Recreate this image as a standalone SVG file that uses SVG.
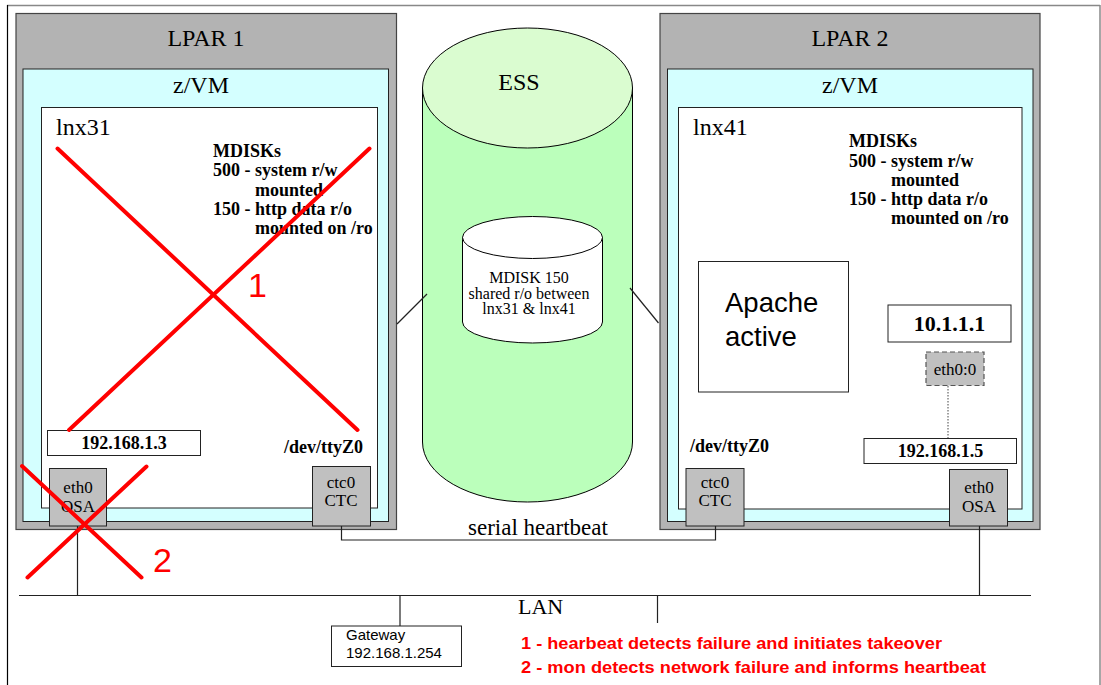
<svg xmlns="http://www.w3.org/2000/svg" width="1101" height="685" viewBox="0 0 1101 685">
<style>
.serif{font-family:"Liberation Serif","Times New Roman",serif;fill:#000}
.sans{font-family:"Liberation Sans",Arial,sans-serif;fill:#000}
.b{font-weight:bold}
.lpar{fill:#b3b3b3;stroke:#444;stroke-width:1.2}
.zvm{fill:#d4ffff;stroke:#222;stroke-width:1}
.lnx{fill:#fff;stroke:#222;stroke-width:1}
.dev{fill:#c0c0c0;stroke:#222;stroke-width:1}
.box{fill:#fff;stroke:#222;stroke-width:1}
.wire{fill:none;stroke:#222;stroke-width:1.2}
.fail{stroke:#ff0000;stroke-width:4;stroke-linecap:round}
.red{font-family:"Liberation Sans",Arial,sans-serif;fill:#ff0000}
</style>
<rect width="1101" height="685" fill="#fff"/>
<g id="frame">
<line x1="7" y1="5.5" x2="1100" y2="5.5" stroke="#888" stroke-width="1.5"/>
<line x1="7.5" y1="5" x2="7.5" y2="685" stroke="#000" stroke-width="1.2"/>
<line x1="1100" y1="5" x2="1100" y2="685" stroke="#888" stroke-width="1.5"/>
</g>
<g id="lpar1">
<rect class="lpar" x="16" y="13.5" width="380.5" height="516"/>
<text class="serif" x="206" y="46" font-size="24" text-anchor="middle">LPAR 1</text>
</g>
<g id="zvm1">
<rect class="zvm" x="23" y="69" width="365.5" height="452.5"/>
<text class="serif" x="201" y="93" font-size="24" text-anchor="middle">z/VM</text>
</g>
<g id="lnx31">
<rect class="lnx" x="41.5" y="107.5" width="336" height="400.5"/>
<text class="serif" x="56" y="135" font-size="24">lnx31</text>
<text class="serif b" font-size="18"><tspan x="213" y="157">MDISKs</tspan><tspan x="213" y="176">500 - system r/w</tspan><tspan x="255" y="196">mounted</tspan><tspan x="213" y="215">150 - http data r/o</tspan><tspan x="255" y="234">mounted on /ro</tspan></text>
</g>
<g id="ip1">
<rect class="box" x="47.5" y="430.5" width="153" height="25"/>
<text class="serif b" x="124" y="449" font-size="18" text-anchor="middle">192.168.1.3</text>
</g>
<g id="tty1">
<text class="serif b" x="284" y="453" font-size="18">/dev/ttyZ0</text>
</g>
<g id="osa1">
<rect class="dev" x="49.5" y="468.5" width="57" height="57.5"/>
<text class="serif" x="78" y="493" font-size="17" text-anchor="middle">eth0</text>
<text class="serif" x="78" y="512" font-size="17" text-anchor="middle">OSA</text>
</g>
<g id="ctc1">
<rect class="dev" x="312.5" y="466.5" width="58" height="59.5"/>
<text class="serif" x="341" y="488" font-size="17" text-anchor="middle">ctc0</text>
<text class="serif" x="341" y="506" font-size="17" text-anchor="middle">CTC</text>
</g>
<g id="lpar2">
<rect class="lpar" x="660" y="13.5" width="380" height="516"/>
<text class="serif" x="850" y="46" font-size="24" text-anchor="middle">LPAR 2</text>
</g>
<g id="zvm2">
<rect class="zvm" x="667.5" y="69" width="365.5" height="452.5"/>
<text class="serif" x="850" y="93" font-size="24" text-anchor="middle">z/VM</text>
</g>
<g id="lnx41">
<rect class="lnx" x="678.5" y="107.5" width="343.5" height="401.5"/>
<text class="serif" x="693" y="135" font-size="24">lnx41</text>
<text class="serif b" font-size="18"><tspan x="849" y="147">MDISKs</tspan><tspan x="849" y="167">500 - system r/w</tspan><tspan x="891" y="186">mounted</tspan><tspan x="849" y="205">150 - http data r/o</tspan><tspan x="891" y="224">mounted on /ro</tspan></text>
</g>
<g id="apache">
<rect class="box" x="698.5" y="261.5" width="150" height="130.5"/>
<text class="sans" x="725" y="312" font-size="27.5">Apache</text>
<text class="sans" x="725" y="346" font-size="27.5">active</text>
</g>
<g id="vip">
<rect class="box" x="888" y="305" width="123" height="37"/>
<text class="serif b" x="949.5" y="331" font-size="22" text-anchor="middle">10.1.1.1</text>
</g>
<g id="eth00">
<rect x="926" y="352" width="58" height="33.5" fill="#c0c0c0" stroke="#555" stroke-width="1.2" stroke-dasharray="5,3"/>
<text class="serif" x="955" y="375" font-size="17" text-anchor="middle">eth0:0</text>
</g>
<g id="ip2">
<rect class="box" x="864" y="438.5" width="152.5" height="25"/>
<text class="serif b" x="940.5" y="457" font-size="18" text-anchor="middle">192.168.1.5</text>
</g>
<g id="tty2">
<text class="serif b" x="690" y="452" font-size="18">/dev/ttyZ0</text>
</g>
<g id="ctc2">
<rect class="dev" x="686" y="468.5" width="58" height="57.5"/>
<text class="serif" x="715" y="488" font-size="17" text-anchor="middle">ctc0</text>
<text class="serif" x="715" y="506" font-size="17" text-anchor="middle">CTC</text>
</g>
<g id="osa2">
<rect class="dev" x="949.5" y="469.5" width="58" height="56.5"/>
<text class="serif" x="979" y="493" font-size="17" text-anchor="middle">eth0</text>
<text class="serif" x="979" y="512" font-size="17" text-anchor="middle">OSA</text>
</g>
<g id="ess">
<path d="M422.5,88 L422.5,442 A105,60 0 0 0 632.5,442 L632.5,88 Z" fill="#bbffbb" stroke="#000" stroke-width="1"/>
<ellipse cx="527.5" cy="88" rx="105" ry="60" fill="#dafcd0" stroke="#000" stroke-width="1"/>
<text class="serif" x="519" y="90" font-size="24" text-anchor="middle">ESS</text>
</g>
<g id="mdisk150">
<path d="M462.5,237.5 L462.5,322 A70,21 0 0 0 602.5,322 L602.5,237.5 Z" fill="#fff" stroke="#000" stroke-width="1"/>
<ellipse cx="532.5" cy="237.5" rx="70" ry="21" fill="#fff" stroke="#000" stroke-width="1"/>
<text class="serif" font-size="16" text-anchor="middle"><tspan x="529" y="283">MDISK 150</tspan><tspan x="529" y="299">shared r/o between</tspan><tspan x="529" y="314">lnx31 &amp; lnx41</tspan></text>
</g>
<g id="gateway">
<rect class="box" x="331.5" y="626" width="130" height="40.5"/>
<text class="sans" x="346" y="640" font-size="15">Gateway</text>
<text class="sans" x="346" y="658" font-size="15">192.168.1.254</text>
</g>
<g id="connectors">
<line class="wire" x1="397" y1="324" x2="427" y2="294"/>
<line class="wire" x1="630" y1="288" x2="658.5" y2="323"/>
<line x1="948" y1="386" x2="948" y2="438" stroke="#444" stroke-width="1" stroke-dasharray="1.5,1.5"/>
<polyline class="wire" points="341.5,526 341.5,540 715.5,540 715.5,526" stroke="#555"/>
<line class="wire" x1="19" y1="595.5" x2="1031" y2="595.5"/>
<line class="wire" x1="77.5" y1="526" x2="77.5" y2="595.5"/>
<line class="wire" x1="979.5" y1="526" x2="979.5" y2="595.5"/>
<line class="wire" x1="400" y1="595.5" x2="400" y2="626"/>
<line class="wire" x1="657.5" y1="595.5" x2="657.5" y2="623"/>
<text class="serif" x="468" y="535" font-size="23">serial heartbeat</text>
<text class="serif" x="518" y="614" font-size="22">LAN</text>
</g>
<g id="failures">
<line class="fail" x1="57.5" y1="148.5" x2="357.5" y2="430"/>
<line class="fail" x1="369.5" y1="148.5" x2="69" y2="430"/>
<text class="red" x="248" y="297" font-size="34">1</text>
<line class="fail" x1="22" y1="466" x2="141.5" y2="577.5"/>
<line class="fail" x1="146.5" y1="466.5" x2="27.5" y2="577.5"/>
<text class="red" x="153" y="572" font-size="34">2</text>
<text class="red b" x="521" y="649" font-size="16" textLength="421" lengthAdjust="spacingAndGlyphs">1 - hearbeat detects failure and initiates takeover</text>
<text class="red b" x="521" y="672.5" font-size="16" textLength="465" lengthAdjust="spacingAndGlyphs">2 - mon detects network failure and informs heartbeat</text>
</g>
</svg>
